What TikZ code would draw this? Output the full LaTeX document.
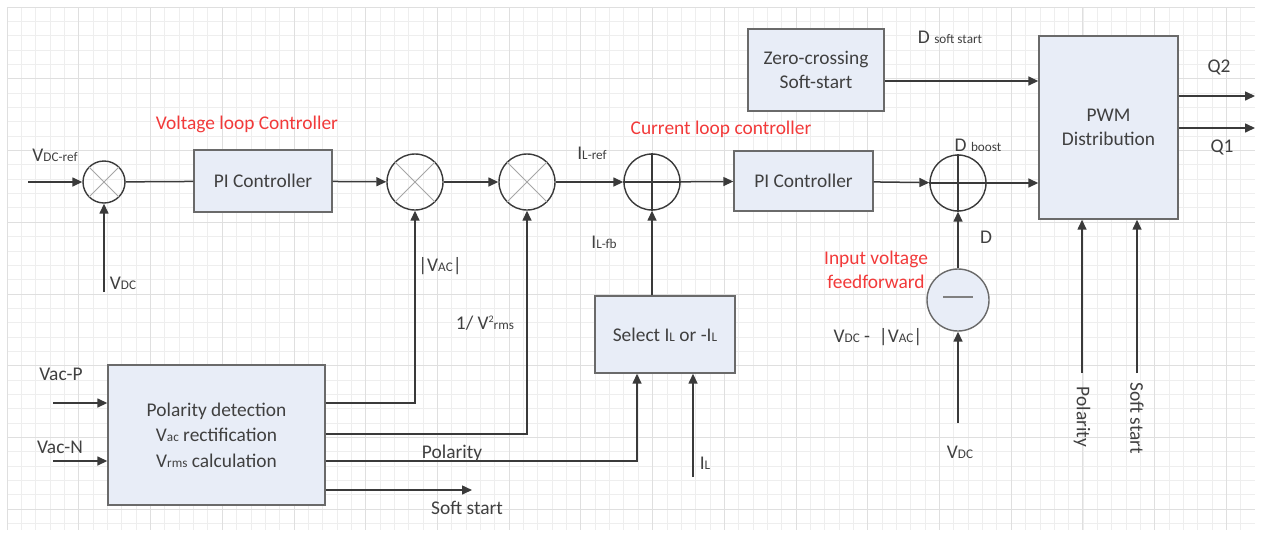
\documentclass[tikz,border=0pt]{standalone}
\usepackage{fontspec}
\setmainfont{Carlito}
\usetikzlibrary{arrows.meta,positioning}
\definecolor{ink}{HTML}{3A3A3A}
\definecolor{txt}{HTML}{404040}
\definecolor{blockfill}{HTML}{E8EDF7}
\definecolor{blockline}{HTML}{6A6A6A}
\definecolor{alert}{HTML}{F23A3A}
\definecolor{gridminor}{HTML}{EEEEEE}
\definecolor{gridmajor}{HTML}{DFDFDF}
\newcommand{\sbx}[1]{{\fontsize{6.6}{7}\selectfont #1}}
\newcommand{\spx}[1]{\raisebox{0.8ex}{\fontsize{5}{6}\selectfont #1}}

\begin{document}
\begin{tikzpicture}[x=0.5pt,y=-0.5pt,
  font=\fontsize{9.7}{12}\selectfont,text=txt,
  block/.style={draw=blockline,fill=blockfill,line width=0.7pt,align=center,inner sep=2pt},
  xsum/.style={circle,draw=ink,line width=0.7pt,minimum size=28pt,inner sep=0pt},
  psum/.style={xsum},
  xline/.style={draw=gray!70,line width=0.5pt},
  pline/.style={draw=ink,line width=0.7pt},
  wire/.style={draw=ink,line width=0.75pt},
  arr/.style={wire,-{Triangle[length=5pt,width=4.5pt]}},
  lbl/.style={inner sep=1pt},
  note/.style={text=alert,align=center,inner sep=1pt}]
\useasboundingbox (0,0) rectangle (1261,536);
\fill[white] (0,0) rectangle (1261,536);
\foreach \i [evaluate=\i as \gx using 7+14.345*\i] in {0,...,86}
  \draw[gridminor,line width=0.35pt] (\gx,7) -- (\gx,530);
\foreach \j [evaluate=\j as \gy using 7+14.345*\j] in {0,...,36}
  \draw[gridminor,line width=0.35pt] (7,\gy) -- (1255,\gy);
\foreach \i [evaluate=\i as \gx using 7+71.725*\i] in {0,...,17}
  \draw[gridmajor,line width=0.4pt] (\gx,7) -- (\gx,530);
\foreach \j [evaluate=\j as \gy using 7+71.725*\j] in {0,...,7}
  \draw[gridmajor,line width=0.4pt] (7,\gy) -- (1255,\gy);

\node[xsum,minimum size=21pt] (sum1) at (104,182) {};
\node[block,minimum width=69pt,minimum height=31pt] (pi1) at (263,181) {PI Controller};
\node[xsum] (mul2) at (415,182) {};
\node[xsum] (mul3) at (527,182) {};
\node[psum] (sum4) at (652,182) {};
\node[block,minimum width=69.5pt,minimum height=30pt] (pi2) at (803.5,181) {PI Controller};
\node[psum] (sum5) at (958,183) {};
\node[block,minimum width=68pt,minimum height=41pt] (zcs) at (816,70) {Zero-crossing\\Soft-start};
\node[block,minimum width=69.5pt,minimum height=91.5pt] (pwm) at (1108.5,127.5) {PWM\\Distribution};
\node[block,minimum width=70pt,minimum height=38.5pt] (sel) at (665,334.5) {Select I\sbx{L} or -I\sbx{L}};
\node[xsum,fill=blockfill,draw=blockline,minimum size=31pt] (ff) at (958,300) {\textcolor{gray}{\rule[0.6ex]{15pt}{1.1pt}}};
\node[block,minimum width=108.5pt,minimum height=70pt,font=\fontsize{9.7}{12.8}\selectfont] (pol) at (216.5,435)
  {Polarity detection\\V\sbx{ac} rectification\\V\sbx{rms} calculation};

\foreach \m in {sum1,mul2,mul3}
  \draw[xline] (\m.north west) -- (\m.south east) (\m.north east) -- (\m.south west);
\foreach \p in {sum4,sum5}
  \draw[pline] (\p.north) -- (\p.south) (\p.west) -- (\p.east);

\coordinate (vref) at (28,182);
\coordinate (vdc) at (104,292);
\coordinate (bvac) at (415,403);
\coordinate (brms) at (527,434);
\coordinate (polin) at (637,461);
\coordinate (ilin) at (693,477);
\coordinate (ssout) at (472,490);
\coordinate (vacp) at (53,403);
\coordinate (vacn) at (53,461);
\coordinate (vdcff) at (958,423);
\coordinate (q2) at (1255,96);
\coordinate (q1) at (1255,128);
\coordinate (pwmpol) at (1082,373);
\coordinate (pwmss) at (1137,373);

\draw[arr] (vref) -- (sum1);
\draw[arr] (vdc) -- (sum1);
\draw[wire] (sum1) -- (pi1);
\draw[arr] (pi1) -- (mul2);
\draw[arr] (mul2) -- (mul3);
\draw[arr] (mul3) -- (sum4);
\draw[arr] (sum4) -- (pi2);
\draw[arr] (pi2) -- (sum5);
\draw[arr] (sum5.east) -- (sum5.east -| pwm.west);
\draw[arr] ([yshift=-5.5pt]zcs.east) -- ([yshift=-5.5pt]zcs.east -| pwm.west);
\draw[arr] (q2 -| pwm.east) -- (q2);
\draw[arr] (q1 -| pwm.east) -- (q1);
\draw[arr] (sum4.south |- sel.north) -- (sum4.south);
\draw[arr] (ff) -- (sum5);
\draw[arr] (vdcff) -- (ff);
\draw[arr] (pwmpol) -- (pwmpol |- pwm.south);
\draw[arr] (pwmss) -- (pwmss |- pwm.south);
\draw[arr] (vacp) -- (vacp -| pol.west);
\draw[arr] (vacn) -- (vacn -| pol.west);
\draw[arr] (pol.east |- bvac) -- (bvac) -- (mul2);
\draw[arr] (pol.east |- brms) -- (brms) -- (mul3);
\draw[arr] (pol.east |- polin) -- (polin) -- (polin |- sel.south);
\draw[arr] (pol.east |- ssout) -- (ssout);
\draw[arr] (ilin) -- (ilin |- sel.south);

\node[note] (vlc) at (247,124) {Voltage loop Controller};
\node[note] (clc) at (721,129) {Current loop controller};
\node[note] (ivf) at (876,270) {Input voltage\\feedforward};
\node[lbl] (lvref) at (55,155) {V\sbx{DC-ref}};
\node[lbl] (lvdc) at (123,283) {V\sbx{DC}};
\node[lbl] (lvac) at (440,266) {|V\sbx{AC}|};
\node[lbl] (lrms) at (485,323) {1/ V\spx{2}\sbx{rms}};
\node[lbl] (lilref) at (592,153) {I\sbx{L-ref}};
\node[lbl] (lilfb) at (604,242) {I\sbx{L-fb}};
\node[lbl] (lil) at (705,463) {I\sbx{L}};
\node[lbl] (ldss) at (950,37) {D \sbx{soft start}};
\node[lbl] (ldb) at (978,145) {D \sbx{boost}};
\node[lbl] (ld) at (986,237) {D};
\node[lbl] (lff) at (878,337) {V\sbx{DC} -~ |V\sbx{AC}|};
\node[lbl] (lvdcff) at (960,452) {V\sbx{DC}};
\node[lbl] (lq2) at (1219,67) {Q2};
\node[lbl] (lq1) at (1222,147) {Q1};
\node[lbl,rotate=-90] (lppol) at (1082,417) {Polarity};
\node[lbl,rotate=-90] (lpss) at (1137,418) {Soft start};
\node[lbl] (lvacp) at (61,374) {Vac-P};
\node[lbl] (lvacn) at (60,447) {Vac-N};
\node[lbl] (lpolo) at (452,453) {Polarity};
\node[lbl] (lsso) at (467,508) {Soft start};
\end{tikzpicture}
\end{document}
